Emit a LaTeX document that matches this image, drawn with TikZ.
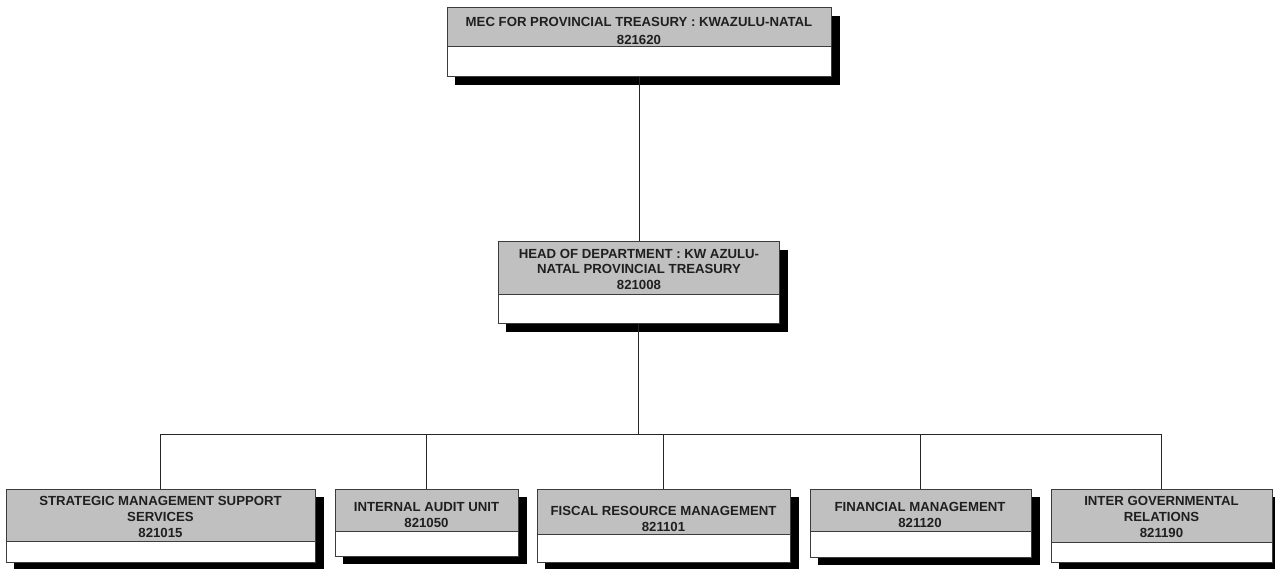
\documentclass[tikz,border=0pt]{standalone}
\usepackage{fontspec}
\setmainfont{Liberation Sans}
\usetikzlibrary{fit}
\definecolor{boxgray}{RGB}{192,192,192}
\definecolor{edgec}{RGB}{60,60,60}
\newcommand\orgbox[6]{%
  \fill[black] ({#2+8},{#3+8}) rectangle ({#4+9},{#6+8});
  \fill[boxgray] (#2,#3) rectangle (#4,#5);
  \fill[white] (#2,#5) rectangle (#4,#6);
  \draw[edgec, line width=1pt] (#2,#5) -- (#4,#5);
  \coordinate (#1-a) at (#2,#3);
  \coordinate (#1-b) at (#4,#6);
  \node[orgframe, fit=(#1-a)(#1-b)] (#1) {};
}
\begin{document}
\begin{tikzpicture}[x=1pt, y=-1pt,
  orgframe/.style={draw=edgec, line width=1pt, inner sep=0pt},
  lbl/.style={font=\bfseries\fontsize{13.2}{15}\selectfont, anchor=base, inner sep=0pt, text=black!88},
  conn/.style={draw=black!85, line width=1pt}]
\useasboundingbox (0,0) rectangle (1275,569);

\coordinate (bus) at (639,434);

% boxes
\orgbox{mec}{447}{8}{831}{47}{77}
\orgbox{hod}{498}{242}{779}{295}{324}
\orgbox{sms}{6}{489}{315}{541}{562}
\orgbox{iau}{335}{489}{518}{531}{556}
\orgbox{frm}{537}{489}{790}{534}{562}
\orgbox{fm}{810}{489}{1031}{531}{557}
\orgbox{igr}{1051}{489}{1272}{542}{562}

% connectors
\draw[conn] (mec.south) -- (mec.south |- hod.north);
\draw[conn] (hod.south) -- (hod.south |- bus);
\draw[conn] (sms.north |- bus) -- (igr.north |- bus);
\foreach \n in {sms,iau,frm,fm,igr}
  \draw[conn] (\n.north |- bus) -- (\n.north);

% labels
\node[lbl] (mec1) at (639,27) {MEC FOR PROVINCIAL TREASURY : KWAZULU-NATAL};
\node[lbl] (mec2) at (639,45) {821620};

\node[lbl] (hod1) at (639,258.5) {HEAD OF DEPARTMENT : KW AZULU-};
\node[lbl] (hod2) at (639,274) {NATAL PROVINCIAL TREASURY};
\node[lbl] (hod3) at (639,289.5) {821008};

\node[lbl] (sms1) at (160.5,505) {STRATEGIC MANAGEMENT SUPPORT};
\node[lbl] (sms2) at (160.5,521) {SERVICES};
\node[lbl] (sms3) at (160.5,537) {821015};

\node[lbl] (iau1) at (426.5,511) {INTERNAL AUDIT UNIT};
\node[lbl] (iau2) at (426.5,527) {821050};

\node[lbl] (frm1) at (663.5,515) {FISCAL RESOURCE MANAGEMENT};
\node[lbl] (frm2) at (663.5,531) {821101};

\node[lbl] (fm1) at (920,511) {FINANCIAL MANAGEMENT};
\node[lbl] (fm2) at (920,527) {821120};

\node[lbl] (igr1) at (1161.5,505) {INTER GOVERNMENTAL};
\node[lbl] (igr2) at (1161.5,521) {RELATIONS};
\node[lbl] (igr3) at (1161.5,537) {821190};
\end{tikzpicture}
\end{document}
